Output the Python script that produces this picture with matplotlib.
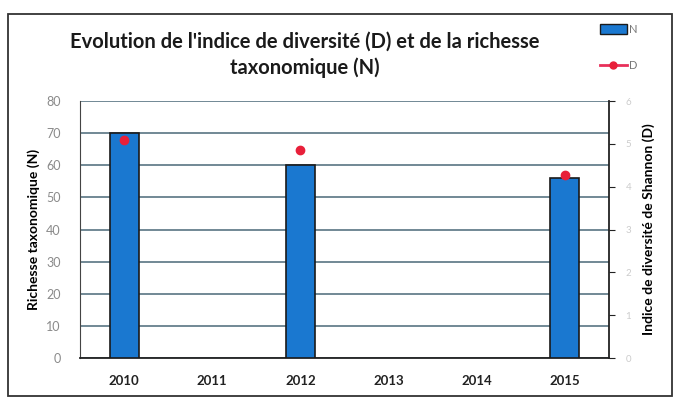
import numpy as np
import matplotlib.pyplot as plt
from matplotlib.patches import Rectangle
from matplotlib.lines import Line2D

plt.rcParams['font.family'] = ['Lato', 'DejaVu Sans']

# données par année
annees = ["2010", "2011", "2012", "2013", "2014", "2015"]
richesse_N = [70, np.nan, 60, np.nan, np.nan, 56]
shannon_D = [5.1, np.nan, 4.85, np.nan, np.nan, 4.27]

fig = plt.figure(figsize=(6.75, 3.97), dpi=100)
ax = fig.add_axes([80 / 675, 39 / 397, 529 / 675, 257 / 397])

x = np.arange(len(annees))
ax.bar(x, richesse_N, width=0.33, color="#1a78d0", edgecolor="#1a1a1a",
       linewidth=1.2, zorder=3)
ax.set_xlim(-0.5, len(annees) - 0.5)
ax.set_ylim(0, 80)
ax.set_yticks(range(0, 81, 10))
ax.yaxis.grid(True, color="#4a6878", linewidth=1.1, zorder=0)
ax.set_xticks(x)
ax.set_xticklabels(annees, fontweight="bold", fontsize=9.5, color="#222222")
ax.tick_params(axis="x", length=0, pad=12)
ax.tick_params(axis="y", length=0, labelsize=9, labelcolor="#8a8a8a", pad=14)
ax.set_ylabel("Richesse taxonomique (N)", fontweight="bold", fontsize=10,
              labelpad=4)
for s in ["top", "right"]:
    ax.spines[s].set_visible(False)
ax.spines["left"].set_color("#444444")
ax.spines["bottom"].set_color("#222222")
ax.spines["bottom"].set_linewidth(1.3)

# axe secondaire pour l'indice de Shannon
ax2 = ax.twinx()
ax2.plot(x, shannon_D, color="#e8305a", linewidth=2, marker="o",
         markersize=6, markerfacecolor="#e8203a", markeredgecolor="#e8203a",
         zorder=4)
ax2.set_ylim(0, 6)
ax2.set_yticks(range(0, 7))
ax2.tick_params(axis="y", direction="out", length=4, color="#222222",
                labelsize=7, labelcolor="#cccccc", pad=8)
ax2.set_ylabel("Indice de diversité de Shannon (D)", fontweight="bold",
               fontsize=10, labelpad=8)
for s in ["top", "left", "bottom"]:
    ax2.spines[s].set_visible(False)
ax2.spines["right"].set_color("#222222")
ax2.spines["right"].set_linewidth(1.3)

fig.text(305 / 675, 0.92, "Evolution de l'indice de diversité (D) et de la richesse\ntaxonomique (N)",
         ha="center", va="top", fontsize=14.5, fontweight="bold",
         linespacing=1.35, color="#1a1a1a")

handles = [
    Rectangle((0, 0), 1, 1, facecolor="#1a78d0", edgecolor="#1a1a1a"),
    Line2D([0], [0], color="#e8305a", linewidth=2, marker="o", markersize=5,
           markerfacecolor="#e8203a", markeredgecolor="#e8203a"),
]
fig.legend(handles, ["N", "D"], loc="upper left",
           bbox_to_anchor=(590 / 675, 0.965), frameon=False, fontsize=8,
           labelspacing=2.3, handlelength=2.4, handleheight=1.0,
           handletextpad=0.2, labelcolor="#777777")

# cadre extérieur
fig.patches.append(Rectangle((8 / 675, 0.002), 664 / 675, 382 / 397,
                             transform=fig.transFigure, fill=False,
                             edgecolor="#333333", linewidth=1.3))

fig.savefig("out.png", dpi=100)
